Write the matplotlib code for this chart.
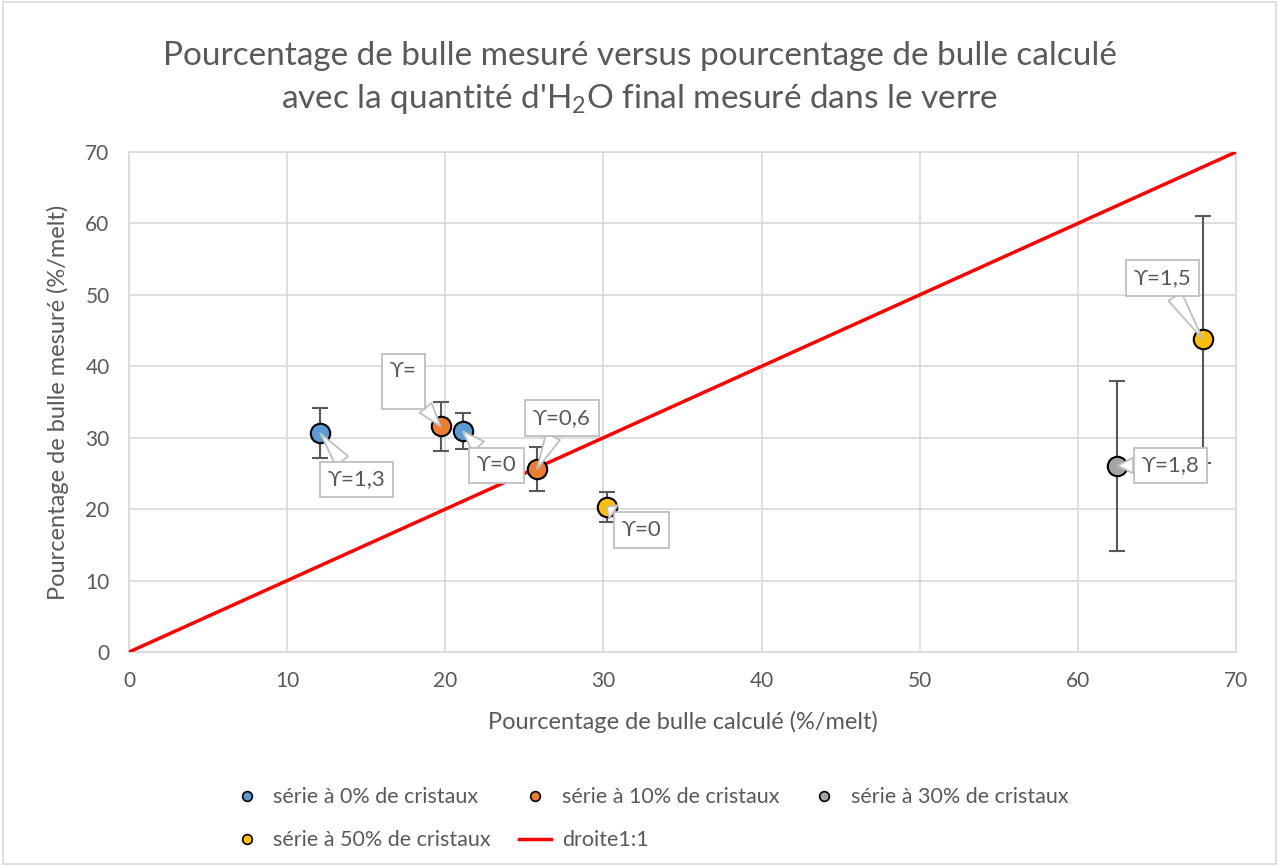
import matplotlib
matplotlib.use("Agg")
import matplotlib.pyplot as plt
from matplotlib.lines import Line2D
from matplotlib.patches import Rectangle

plt.rcParams['font.family'] = ['Lato', 'DejaVu Sans']
plt.rcParams['mathtext.fontset'] = 'custom'
plt.rcParams['mathtext.rm'] = 'Lato'
plt.rcParams['mathtext.default'] = 'regular'

GRIS = '#595959'

# données : % bulle calculé (x), % bulle mesuré (y), barre d'erreur, gamma
serie_noms = ["série à 0% de cristaux", "série à 10% de cristaux",
              "série à 30% de cristaux", "série à 50% de cristaux"]
serie_couleurs = ['#5B9BD5', '#ED7D31', '#A5A5A5', '#FFC000']

x_0 = [12.1, 21.1]
y_0 = [30.6, 30.9]
err_0 = [3.5, 2.5]
gamma_0 = ["ϒ=1,3", "ϒ=0"]

x_10 = [19.7, 25.8]
y_10 = [31.6, 25.6]
err_10 = [3.4, 3.1]
gamma_10 = ["ϒ=\n", "ϒ=0,6"]

x_30 = [62.5]
y_30 = [26.1]
err_30 = [11.9]
gamma_30 = ["ϒ=1,8"]

x_50 = [30.2, 67.9]
y_50 = [20.3, 43.8]
err_50 = [2.1, 17.3]
gamma_50 = ["ϒ=0", "ϒ=1,5"]

droite_x = [0, 70]
droite_y = [0, 70]

series = [(x_0, y_0, err_0, gamma_0), (x_10, y_10, err_10, gamma_10),
          (x_30, y_30, err_30, gamma_30), (x_50, y_50, err_50, gamma_50)]

# décalage des étiquettes (pixels) pour chaque point
decalages = [[(36, -46), (34, -34)],
             [(-37, 45), (25, 51)],
             [(53, 0)],
             [(35, -23), (-40, 61)]]

fig = plt.figure(figsize=(12.79, 8.66), dpi=100)
ax = fig.add_axes([0.1009, 0.2471, 0.8655, 0.5774])

ax.plot(droite_x, droite_y, color='#FF0000', lw=2.5, zorder=3)

handles = []
for (xs, ys, es, gs), nom, coul, decs in zip(series, serie_noms, serie_couleurs, decalages):
    ax.errorbar(xs, ys, yerr=es, fmt='none', ecolor=GRIS, elinewidth=1.5,
                capsize=6, capthick=1.5, zorder=2)
    ax.plot(xs, ys, 'o', ms=14, mfc=coul, mec='black', mew=1.5, zorder=4)
    for xi, yi, g, d in zip(xs, ys, gs, decs):
        ax.annotate(g, (xi, yi), xytext=d, textcoords='offset pixels',
                    ha='center', va='center', fontsize=16, color=GRIS,
                    linespacing=1.0,
                    bbox=dict(boxstyle='square,pad=0.35', fc='white', ec='#BFBFBF', lw=1.3),
                    arrowprops=dict(arrowstyle='wedge,tail_width=0.7,shrink_factor=0.5',
                                    fc='white', ec='#BFBFBF', lw=1.3,
                                    shrinkA=0, shrinkB=0),
                    zorder=5)
    handles.append(Line2D([], [], ls='none', marker='o', ms=7, mfc=coul, mec='black', mew=1.2))

handles.append(Line2D([], [], color='#FF0000', lw=2.5))
noms = serie_noms + ["droite1:1"]

ax.set_xlim(0, 70)
ax.set_ylim(0, 70)
ax.set_xticks(range(0, 71, 10))
ax.set_yticks(range(0, 71, 10))
ax.grid(True, color='#D9D9D9', lw=1.2)
ax.set_axisbelow(True)
for s in ax.spines.values():
    s.set_color('#D9D9D9')
    s.set_linewidth(1.2)
ax.tick_params(length=0, labelsize=15, labelcolor=GRIS)
ax.tick_params(axis='y', pad=14)
ax.tick_params(axis='x', pad=14)

ax.set_xlabel("Pourcentage de bulle calculé (%/melt)", fontsize=17, color=GRIS, labelpad=14)
ax.set_ylabel("Pourcentage de bulle mesuré (%/melt)", fontsize=17, color=GRIS, labelpad=12)

fig.suptitle("Pourcentage de bulle mesuré versus pourcentage de bulle calculé\n"
             "avec la quantité d'H$_2$O final mesuré dans le verre",
             fontsize=24, color=GRIS, y=0.953, linespacing=1.45)

# ordre pour remplir les lignes de la légende
ordre = [0, 3, 1, 4, 2]
leg = fig.legend([handles[i] for i in ordre], [noms[i] for i in ordre],
                 loc='lower left', bbox_to_anchor=(0.165, -0.004), ncol=3,
                 frameon=False, fontsize=15.5, labelcolor=GRIS,
                 handlelength=1.5, handletextpad=0.5, columnspacing=1.3, labelspacing=1.05)

fig.patches.append(Rectangle((0.002, 0.002), 0.996, 0.996, transform=fig.transFigure,
                             fill=False, ec='#D9D9D9', lw=1.2))

fig.savefig("out.png", dpi=100)
